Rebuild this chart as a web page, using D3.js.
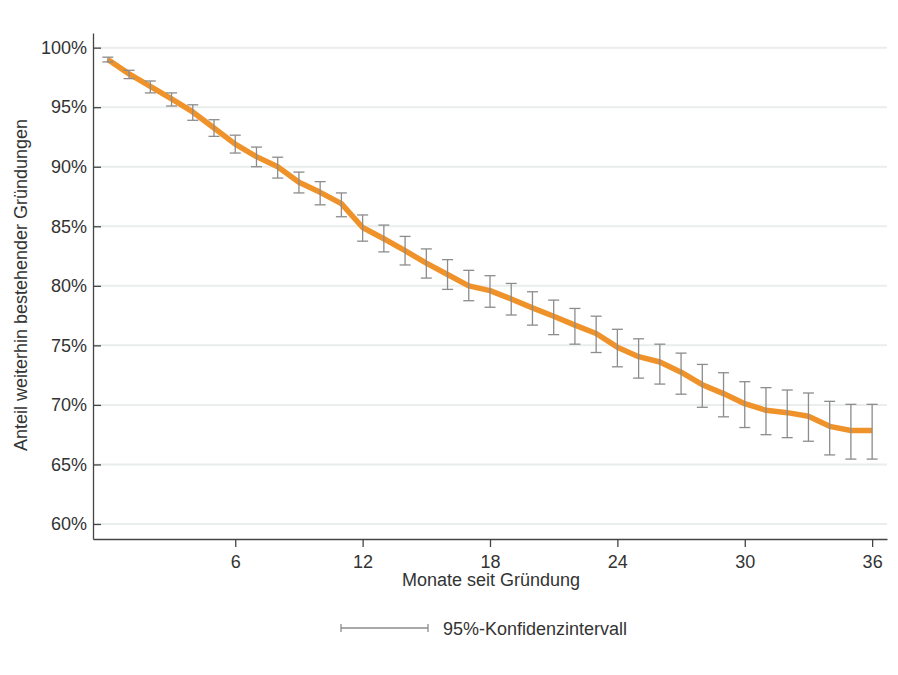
<!DOCTYPE html>
<html>
<head>
<meta charset="utf-8">
<script src="https://cdn.jsdelivr.net/npm/d3@7"></script>
<style>
  body { margin: 0; background: #fff; }
  text { font-family: "Liberation Sans", Arial, sans-serif; fill: #333; }
</style>
</head>
<body>
<div id="chart"></div>
<script>
// data (months since founding, survival share in %)
const months = d3.range(0, 37);
const survival = [99.0, 97.8, 96.75, 95.7, 94.6, 93.25, 91.9, 90.85, 90.0, 88.7,
  87.85, 86.9, 84.9, 83.95, 82.95, 81.9, 80.95, 80.0, 79.6, 78.9,
  78.15, 77.45, 76.7, 76.0, 74.85, 74.05, 73.6, 72.75, 71.7, 70.95,
  70.1, 69.55, 69.35, 69.05, 68.2, 67.85, 67.85];
const ciHigh = [99.2, 98.1, 97.2, 96.2, 95.2, 93.95, 92.65, 91.65, 90.8, 89.55,
  88.75, 87.8, 85.95, 85.1, 84.15, 83.1, 82.2, 81.3, 80.85, 80.2,
  79.5, 78.8, 78.1, 77.45, 76.35, 75.55, 75.1, 74.35, 73.4, 72.7,
  71.95, 71.45, 71.25, 71.0, 70.3, 70.05, 70.05];
const ciLow = [98.8, 97.4, 96.2, 95.1, 93.9, 92.55, 91.15, 90.0, 89.05, 87.8,
  86.8, 85.8, 83.75, 82.85, 81.75, 80.65, 79.7, 78.75, 78.2, 77.55,
  76.7, 75.9, 75.1, 74.4, 73.2, 72.25, 71.75, 70.9, 69.8, 69.0,
  68.1, 67.5, 67.25, 66.95, 65.8, 65.45, 65.45];
const xTicks = [6, 12, 18, 24, 30, 36];
const yTicks = [60, 65, 70, 75, 80, 85, 90, 95, 100];

const width = 898, height = 675;
const margin = { top: 33, right: 11, bottom: 136, left: 93 };
const fontSize = "18px";

const svg = d3.select("#chart").append("svg")
  .attr("width", width)
  .attr("height", height);

const x = d3.scaleLinear().domain([-0.7, 36.7]).range([margin.left, width - margin.right]);
const y = d3.scaleLinear().domain([58.74, 101.23]).range([height - margin.bottom, margin.top]);

// gridlines
svg.append("g")
  .selectAll("line")
  .data(yTicks)
  .enter().append("line")
  .attr("x1", margin.left)
  .attr("x2", width - margin.right)
  .attr("y1", d => y(d))
  .attr("y2", d => y(d))
  .attr("stroke", "#e9edec")
  .attr("stroke-width", 2);

// y axis (ticks point inward)
const yAxis = svg.append("g")
  .attr("transform", `translate(${margin.left},0)`)
  .call(d3.axisLeft(y).tickValues(yTicks).tickSizeInner(-8).tickSizeOuter(0)
    .tickFormat(d => d + "%"));
yAxis.select(".domain").attr("stroke", "#444").attr("stroke-width", 1.3);
yAxis.selectAll(".tick line").attr("stroke", "#444").attr("stroke-width", 1.3);
yAxis.selectAll(".tick text")
  .attr("x", -6)
  .style("font-size", fontSize)
  .style("fill", "#333");

// x axis
const xAxis = svg.append("g")
  .attr("transform", `translate(0,${height - margin.bottom})`)
  .call(d3.axisBottom(x).tickValues(xTicks).tickSizeInner(8).tickSizeOuter(0));
xAxis.select(".domain").attr("stroke", "#444").attr("stroke-width", 1.3);
xAxis.selectAll(".tick line").attr("stroke", "#444").attr("stroke-width", 1.3);
xAxis.selectAll(".tick text")
  .attr("y", 16)
  .style("font-size", fontSize)
  .style("fill", "#333");

// axis titles
svg.append("text")
  .attr("transform", `translate(27,${(margin.top + height - margin.bottom) / 2 - 1}) rotate(-90)`)
  .attr("text-anchor", "middle")
  .style("font-size", fontSize)
  .text("Anteil weiterhin bestehender Gründungen");

svg.append("text")
  .attr("x", (margin.left + width - margin.right) / 2 + 1)
  .attr("y", 586)
  .attr("text-anchor", "middle")
  .style("font-size", fontSize)
  .text("Monate seit Gründung");

// survival line
const line = d3.line()
  .x((d, i) => x(months[i]))
  .y(d => y(d));

svg.append("path")
  .datum(survival)
  .attr("d", line)
  .attr("fill", "none")
  .attr("stroke", "#f0922a")
  .attr("stroke-width", 5.5)
  .attr("stroke-linejoin", "round");

// confidence interval bars
const capW = 5.5;
const bars = svg.append("g")
  .attr("stroke", "#8c8c8c")
  .attr("stroke-width", 1.3)
  .selectAll("g")
  .data(months)
  .enter().append("g");

bars.append("line")
  .attr("x1", d => x(d)).attr("x2", d => x(d))
  .attr("y1", (d, i) => y(ciHigh[i])).attr("y2", (d, i) => y(ciLow[i]));
bars.append("line")
  .attr("x1", d => x(d) - capW).attr("x2", d => x(d) + capW)
  .attr("y1", (d, i) => y(ciHigh[i])).attr("y2", (d, i) => y(ciHigh[i]));
bars.append("line")
  .attr("x1", d => x(d) - capW).attr("x2", d => x(d) + capW)
  .attr("y1", (d, i) => y(ciLow[i])).attr("y2", (d, i) => y(ciLow[i]));

// legend
const legend = svg.append("g").attr("transform", "translate(341,628)");
legend.append("line")
  .attr("x1", 0).attr("x2", 87).attr("y1", 0).attr("y2", 0)
  .attr("stroke", "#8c8c8c").attr("stroke-width", 1.3);
legend.append("line")
  .attr("x1", 0).attr("x2", 0).attr("y1", -4).attr("y2", 4)
  .attr("stroke", "#8c8c8c").attr("stroke-width", 1.3);
legend.append("line")
  .attr("x1", 87).attr("x2", 87).attr("y1", -4).attr("y2", 4)
  .attr("stroke", "#8c8c8c").attr("stroke-width", 1.3);
legend.append("text")
  .attr("x", 102)
  .attr("y", 6.5)
  .style("font-size", fontSize)
  .text("95%-Konfidenzintervall");
</script>
</body>
</html>
